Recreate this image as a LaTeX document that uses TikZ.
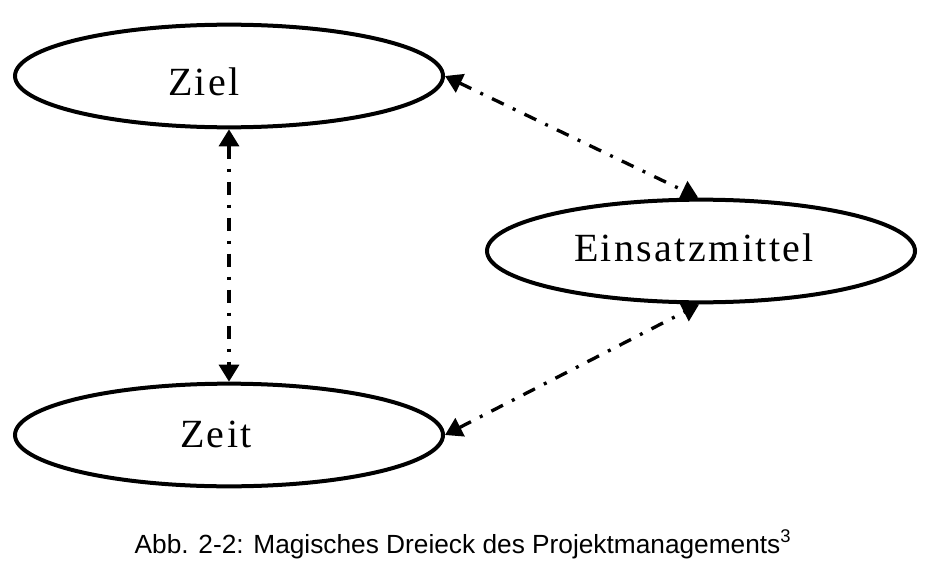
\documentclass[tikz,border=0pt]{standalone}
\usepackage{fontspec}
\setmainfont{Liberation Serif}
\newfontfamily\ovalfont[LetterSpace=6]{Liberation Serif}
\newfontfamily\captfont{Liberation Sans}
\usetikzlibrary{shapes.geometric}
\usetikzlibrary{arrows.meta}

\begin{document}
\begin{tikzpicture}[x=0.75pt,y=-0.75pt,
    oval/.style={ellipse,draw,line width=3pt,minimum width=321pt,minimum height=77pt,inner sep=0pt},
    ovaltext/.style={anchor=base,inner sep=0pt,font=\ovalfont\fontsize{30}{36}\selectfont},
    link/.style={{Triangle[length=12.75pt,width=15pt]}-{Triangle[length=12.75pt,width=15pt]},line width=2.5pt,dash pattern=on 9.75pt off 7.5pt on 2.25pt off 7.5pt}]
    \useasboundingbox (0,0) rectangle (930,563);
    \node[oval] (ziel) at (229,76) {};
    \node[oval] (einsatz) at (701,251) {};
    \node[oval] (zeit) at (229,435) {};
    \node[ovaltext] (ziellabel) at (204,96) {Ziel};
    \node[ovaltext] (einsatzlabel) at (694,261) {Einsatzmittel};
    \node[ovaltext] (zeitlabel) at (216,447) {Zeit};
    \draw[link] (ziel.south) -- (zeit.north);
    \draw[link] (ziel.east) -- (einsatz.93);
    \draw[link] (zeit.east) -- (einsatz.268);
    \node[font=\captfont\fontsize{19.7}{24}\selectfont,anchor=base] (caption) at (463,553) {Abb. 2-2: Magisches Dreieck des Projektmanagements\textsuperscript{3}};
\end{tikzpicture}
\end{document}
